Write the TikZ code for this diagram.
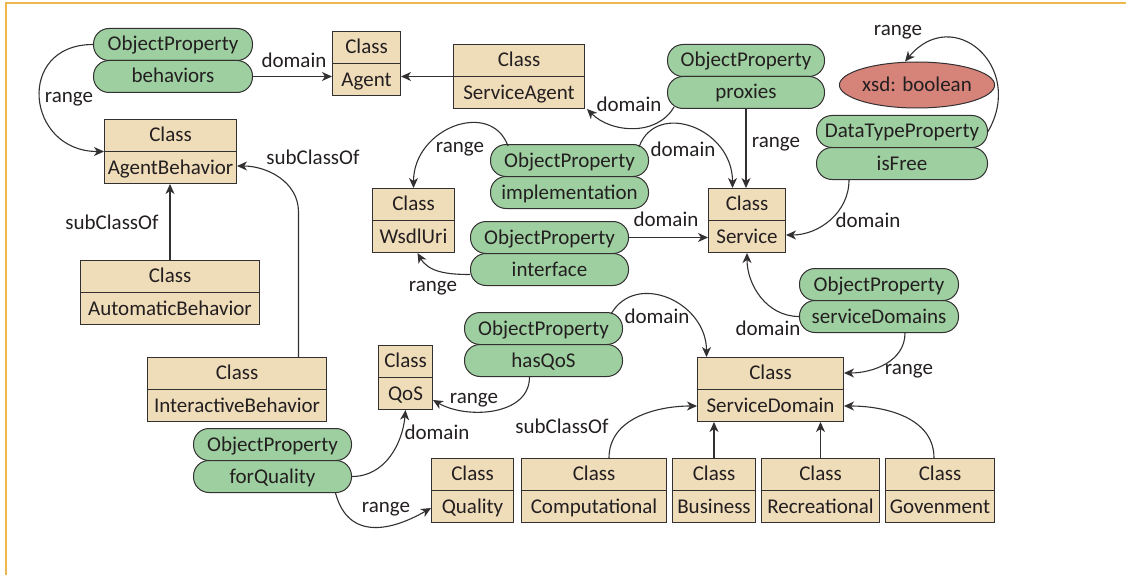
\documentclass[tikz,border=0pt]{standalone}
\usepackage{fontspec}
\setmainfont{Carlito}
\usetikzlibrary{arrows.meta,calc,shapes.geometric}

\definecolor{ink}{HTML}{231F20}
\definecolor{edge}{HTML}{333031}
\definecolor{clsfill}{HTML}{EFDCB9}
\definecolor{propfill}{HTML}{9ECFA0}
\definecolor{xsdfill}{HTML}{D6837A}
\definecolor{framec}{HTML}{EDB94E}

\tikzset{
  lbl/.style={font=\fontsize{21}{25}\selectfont, text=ink, inner sep=0pt,
              text height=13pt, text depth=0pt},
  clsbox/.style={draw=edge, fill=clsfill, line width=1pt, inner sep=0pt,
                 minimum height=64pt, anchor=north west},
  pill/.style={lbl, draw=edge, fill=propfill, line width=1pt,
               rounded corners=15.5pt, minimum height=32pt, anchor=north west},
  rule/.style={draw=edge, line width=1pt},
  conn/.style={draw=edge, line width=1.1pt,
               -{Stealth[length=10pt,width=9pt,inset=3pt]}},
}

% class box: id, left, top, right, class name
\newcommand\classnode[5]{%
  \node[clsbox, minimum width={(#4)-(#2)}] (#1) at (#2,-#3) {};
  \draw[rule] (#1.west) -- (#1.east);
  \node[lbl] (#1-h) at ($(#1.north)+(0,-16)$) {Class};
  \node[lbl] (#1-n) at ($(#1.south)+(0,16)$) {#5};
}
% property: id, left, top, right, kind, property name
\newcommand\propnode[6]{%
  \node[pill, minimum width={(#4)-(#2)}] (#1T) at (#2,-#3) {#5};
  \node[pill, minimum width={(#4)-(#2)}] (#1) at (#2,-#3-32) {#6};
}

\begin{document}
\begin{tikzpicture}[x=1pt,y=1pt]
\useasboundingbox (0,0) rectangle (1126,-575);

% frame
\draw[framec, line width=2pt] (5,-3) -- (1126,-3);
\draw[framec, line width=2.5pt] (6,-3) -- (6,-575);

% classes
\classnode{agent}{332}{31}{400}{Agent}
\classnode{sagent}{453}{44}{584}{ServiceAgent}
\classnode{ab}{104}{119}{236}{AgentBehavior}
\classnode{autob}{80}{260}{259}{AutomaticBehavior}
\classnode{interb}{147}{357}{326}{InteractiveBehavior}
\classnode{wsdl}{372}{188}{454}{WsdlUri}
\classnode{service}{708}{188}{785}{Service}
\classnode{qos}{378}{345}{432}{QoS}
\classnode{sdom}{697}{357}{843}{ServiceDomain}
\classnode{quality}{431}{458}{513}{Quality}
\classnode{comp}{521}{458}{666}{Computational}
\classnode{bus}{672}{458}{755}{Business}
\classnode{rec}{761}{458}{879}{Recreational}
\classnode{gov}{885}{458}{994}{Govenment}

% properties
\propnode{beh}{93}{28}{252}{ObjectProperty}{behaviors}
\propnode{prox}{667}{44}{824}{ObjectProperty}{proxies}
\propnode{free}{816}{115}{987}{DataTypeProperty}{isFree}
\propnode{impl}{490}{144}{648}{ObjectProperty}{implementation}
\propnode{iface}{470}{221}{628}{ObjectProperty}{interface}
\propnode{hasqos}{464}{312}{622}{ObjectProperty}{hasQoS}
\propnode{sdoms}{799}{268}{958}{ObjectProperty}{serviceDomains}
\propnode{forq}{193}{428}{351}{ObjectProperty}{forQuality}

\node[lbl, ellipse, draw=edge, fill=xsdfill, line width=1pt,
      minimum width=119pt, minimum height=46pt] (xsd) at (917,-85) {xsd: boolean};

% behaviors
\draw[conn] (beh.east) -- (beh.east -| agent.west);
\draw[conn] (behT.west) to[out=180,in=180,out distance=78pt,in distance=78pt] (ab.west);
\draw[conn] (sagent.west) -- (sagent.west -| agent.east);

% proxies
\draw[conn] ([shift={(7pt,2pt)}]prox.south west) to[out=-120,in=-45] ([xshift=2pt]sagent.south east);
\draw[conn] (prox.south) -- (prox.south |- service.north);

% implementation
\draw[conn] ([shift={(-10pt,-3pt)}]implT.north east)
  to[out=70,in=90,out distance=50pt,in distance=60pt] ([xshift=-14.5pt]service.north);
\draw[conn] ([shift={(18pt,-2pt)}]implT.north west)
  to[out=110,in=90,out distance=50pt,in distance=60pt] (wsdl.north);

% isFree
\draw[conn] ([xshift=-53pt]free.south) to[out=-90,in=0] ([yshift=2pt]service.east |- service-n);
\draw[conn] (freeT.east) to[out=60,in=50,out distance=75pt,in distance=75pt] ([xshift=-12pt]xsd.north);

% interface
\draw[conn] (ifaceT.east) -- (ifaceT.east -| service.west);
\draw[conn] ([yshift=-5pt]iface.west) to[out=180,in=-60] ([xshift=4pt]wsdl.south);

% serviceDomains
\draw[conn] (sdoms.west) to[out=180,in=-90] (service.south);
\draw[conn] ([xshift=26pt]sdoms.south) to[out=-90,in=0] (sdom.east |- sdom-h);

% hasQoS
\draw[conn] ([shift={(-12pt,-2pt)}]hasqosT.north east)
  to[out=60,in=90,out distance=50pt,in distance=55pt] ([xshift=-64pt]sdom.north);
\draw[conn] ([xshift=-14pt]hasqos.south) to[out=-90,in=-30] ([yshift=-6pt]qos.east |- qos-n);

% forQuality
\draw[conn] (forq.east) to[out=0,in=-95] (qos.south);
\draw[conn] ([xshift=63pt]forq.south)
  to[out=-75,in=-150,out distance=50pt,in distance=45pt] ([yshift=-1pt]quality.west |- quality-n);

% service domain subclasses
\draw[conn] ([xshift=15pt]comp.north) to[out=90,in=180] (sdom.west |- sdom-n);
\draw[conn] (bus.north) -- (bus.north |- sdom.south);
\draw[conn] (rec.north) -- (rec.north |- sdom.south);
\draw[conn] ([xshift=-6pt]gov.north) to[out=90,in=0] (sdom.east |- sdom-n);

% behavior subclasses
\draw[conn] (autob.north) -- (autob.north |- ab.south);
\draw[conn] ([xshift=61.5pt]interb.north) -- ++(0,145pt) to[out=90,in=0] ([yshift=2pt]ab.east |- ab-n);

% edge labels
\node[lbl] (t-bdom) at (294,-61) {domain};
\node[lbl] (t-brng) at (69,-96) {range};
\node[lbl] (t-pdom) at (629,-105) {domain};
\node[lbl] (t-prng) at (776,-141) {range};
\node[lbl] (t-irng) at (460,-146) {range};
\node[lbl] (t-idom) at (683,-150) {domain};
\node[lbl] (t-sub1) at (313,-158) {subClassOf};
\node[lbl] (t-xrng) at (898,-29) {range};
\node[lbl] (t-fdom) at (868,-221) {domain};
\node[lbl] (t-sub2) at (112,-223) {subClassOf};
\node[lbl] (t-ifdom) at (666,-220) {domain};
\node[lbl] (t-ifrng) at (433,-285) {range};
\node[lbl] (t-hdom) at (657,-317) {domain};
\node[lbl] (t-sddom) at (768,-329) {domain};
\node[lbl] (t-sdrng) at (909,-368) {range};
\node[lbl] (t-hrng) at (474,-397) {range};
\node[lbl] (t-qdom) at (437,-433) {domain};
\node[lbl] (t-sub3) at (562,-427) {subClassOf};
\node[lbl] (t-qrng) at (386,-506) {range};
\end{tikzpicture}
\end{document}
